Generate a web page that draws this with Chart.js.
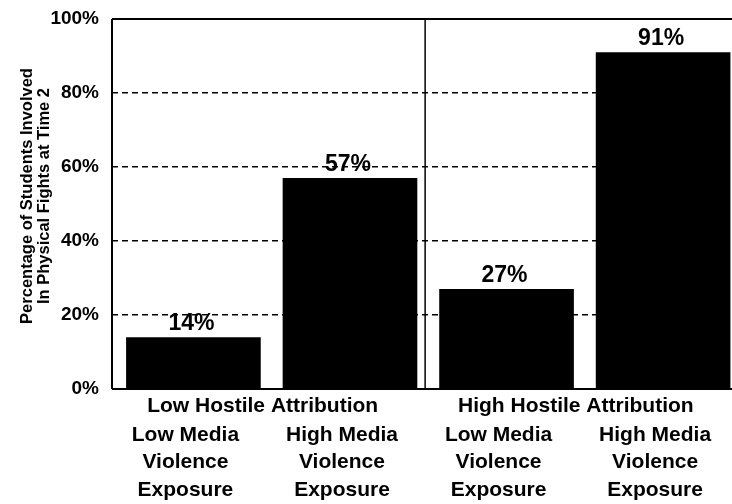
<!DOCTYPE html>
<html>
<head>
<meta charset="utf-8">
<script src="https://cdn.jsdelivr.net/npm/chart.js@4"></script>
<style>
  html, body { margin: 0; padding: 0; background: #fff; overflow: hidden; }
  #wrap { width: 732px; height: 504px; }
</style>
</head>
<body>
<div id="wrap"><canvas id="c" width="732" height="504"></canvas></div>
<script>
// ---- data ----
const mediaLabels = [
  ["Low Media", "Violence", "Exposure"],
  ["High Media", "Violence", "Exposure"],
  ["Low Media", "Violence", "Exposure"],
  ["High Media", "Violence", "Exposure"]
];
const groupLabels = ["Low Hostile Attribution", "High Hostile Attribution"];
const fightPercent = [14, 57, 27, 91];
const yTickValues = [0, 20, 40, 60, 80, 100];
const yTitle = ["Percentage of Students Involved", "In Physical Fights at Time 2"];

const FONT = "'Liberation Sans', Arial, Helvetica, sans-serif";

const points = fightPercent.map((v, i) => ({ x: i, y: v }));

const framePlugin = {
  id: 'frame',
  afterDatasetsDraw(chart) {
    const { ctx, chartArea: a, scales } = chart;
    const xs = scales.x;
    ctx.save();
    ctx.strokeStyle = '#000';
    ctx.lineWidth = 2;
    ctx.setLineDash([]);
    ctx.beginPath();
    ctx.moveTo(a.left, a.top); ctx.lineTo(a.right, a.top);
    ctx.moveTo(a.left, a.top); ctx.lineTo(a.left, a.bottom);
    ctx.moveTo(a.left, a.bottom); ctx.lineTo(a.right, a.bottom);
    ctx.stroke();
    // divider between the two attribution groups
    const xd = xs.getPixelForValue(1.48);
    ctx.lineWidth = 1.5;
    ctx.beginPath();
    ctx.moveTo(xd, a.top); ctx.lineTo(xd, a.bottom);
    ctx.stroke();

    // value labels above bars
    const meta = chart.getDatasetMeta(0);
    ctx.fillStyle = '#000';
    ctx.font = "bold 23px " + FONT;
    ctx.textAlign = 'center';
    ctx.textBaseline = 'alphabetic';
    meta.data.forEach((bar, i) => {
      ctx.fillText(fightPercent[i] + '%', bar.x - 2, bar.y - 7);
    });

    // group labels under the axis
    ctx.font = "bold 21px " + FONT;
    ctx.textBaseline = 'middle';
    groupLabels.forEach((g, gi) => {
      const cx = (xs.getPixelForValue(gi * 2) + xs.getPixelForValue(gi * 2 + 1)) / 2 - 9;
      ctx.fillText(g, cx, 406);
    });

    // y-axis title (two rotated lines)
    ctx.font = "bold 16.5px " + FONT;
    const cy = (a.top + a.bottom) / 2 - 8;
    yTitle.forEach((line, li) => {
      ctx.save();
      ctx.translate(27 + li * 17, cy);
      ctx.rotate(-Math.PI / 2);
      ctx.fillText(line, 0, 0);
      ctx.restore();
    });
    ctx.restore();
  }
};

new Chart(document.getElementById('c'), {
  type: 'bar',
  data: {
    datasets: [{
      data: points,
      backgroundColor: '#000',
      borderWidth: 0,
      barPercentage: 0.86,
      categoryPercentage: 1.0
    }]
  },
  options: {
    responsive: false,
    animation: false,
    devicePixelRatio: 1,
    layout: { padding: { left: 0, top: 19, right: 0, bottom: 0 } },
    plugins: { legend: { display: false }, tooltip: { enabled: false } },
    scales: {
      x: {
        type: 'linear',
        offset: false,
        min: -0.52,
        max: 3.44,
        afterBuildTicks(s) { s.ticks = mediaLabels.map((_, i) => ({ value: i })); },
        grid: { display: false, drawTicks: false, offset: false },
        border: { display: false },
        ticks: {
          color: '#000',
          font: { family: FONT, size: 21, weight: 'bold', lineHeight: 1.31 },
          padding: 32,
          labelOffset: -8,
          maxRotation: 0,
          autoSkip: false,
          callback: v => mediaLabels[v]
        },
        afterFit(s) { s.height = 115; s.paddingLeft = 0; s.paddingRight = 0; }
      },
      y: {
        min: 0,
        max: 100,
        afterBuildTicks(s) { s.ticks = yTickValues.map(v => ({ value: v })); },
        ticks: {
          color: '#000',
          font: { family: FONT, size: 19, weight: 'bold' },
          padding: 13,
          callback: v => v + '%'
        },
        grid: {
          drawTicks: false,
          lineWidth: 1.5,
          color: c => (c.tick && (c.tick.value === 0 || c.tick.value === 100)) ? 'rgba(0,0,0,0)' : '#000'
        },
        border: { display: false, dash: [6, 4] },
        title: { display: false },
        afterFit(s) { s.width = 112; s.paddingTop = 0; s.paddingBottom = 0; }
      }
    }
  },
  plugins: [framePlugin]
});
</script>
</body>
</html>
